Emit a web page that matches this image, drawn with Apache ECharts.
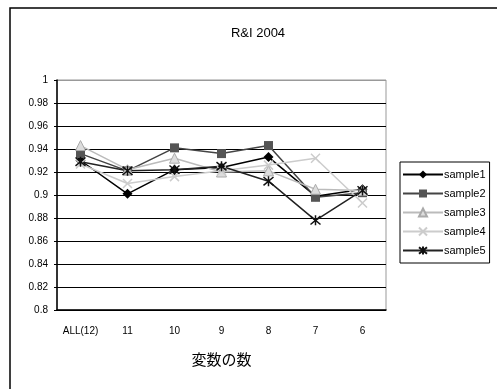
<!DOCTYPE html>
<html>
<head>
<meta charset="utf-8">
<script src="https://cdn.jsdelivr.net/npm/echarts@6/dist/echarts.min.js"></script>
<style>
  html, body { margin: 0; padding: 0; background: #fff; }
  #chart { width: 497px; height: 389px; }
</style>
</head>
<body>
<div id="chart"></div>
<script>
// カテゴリと各サンプルの値
var categories = ['ALL(12)', '11', '10', '9', '8', '7', '6']
var sample1 = [0.930, 0.901, 0.922, 0.924, 0.933, 0.899, 0.905]
var sample2 = [0.936, 0.921, 0.941, 0.936, 0.943, 0.898, 0.902]
var sample3 = [0.943, 0.922, 0.932, 0.920, 0.921, 0.905, 0.904]
var sample4 = [0.927, 0.910, 0.916, 0.921, 0.926, 0.932, 0.893]
var sample5 = [0.929, 0.921, 0.922, 0.925, 0.912, 0.878, 0.904]
var yTicks = [0.8, 0.82, 0.84, 0.86, 0.88, 0.9, 0.92, 0.94, 0.96, 0.98, 1]

var latin = 'Liberation Sans'
var cross = 'path://M0,0L10,10M10,0L0,10'
var star = 'path://M0,0L10,10M10,0L0,10M5,-1L5,11'

function lineSeries (name, data, lineColor, symbol, size, itemStyle) {
  return {
    name: name,
    type: 'line',
    data: data,
    symbol: symbol,
    symbolSize: size,
    lineStyle: { color: lineColor, width: 1.5 },
    itemStyle: itemStyle,
    emphasis: { disabled: true },
    animation: false
  }
}

// 最上段（1.0）は枠線と同じ灰色
var gridColors = yTicks.map(function (v, i) { return i === yTicks.length - 1 ? '#999' : '#000' })

var chart = echarts.init(document.getElementById('chart'))
chart.setOption({
  animation: false,
  title: {
    text: 'R&I 2004',
    left: 253,
    top: 22,
    textAlign: 'center',
    textStyle: { fontFamily: latin, fontSize: 13, fontWeight: 'normal', color: '#000' }
  },
  graphic: [{
    type: 'rect',
    shape: { x: 10, y: 8, width: 600, height: 500 },
    style: { fill: 'none', stroke: '#000', lineWidth: 1.5 },
    z: -1
  }],
  legend: {
    orient: 'vertical',
    left: 400,
    top: 162,
    width: 92,
    itemWidth: 40,
    itemHeight: 10,
    itemGap: 8,
    padding: [7, 4, 7, 2],
    borderColor: '#000',
    borderWidth: 1,
    textStyle: { fontFamily: latin, fontSize: 11, color: '#000', padding: [0, 0, 0, -4] },
    data: ['sample1', 'sample2', 'sample3', 'sample4', 'sample5']
  },
  grid: {
    left: 57,
    right: 111,
    top: 80,
    bottom: 79,
    show: true,
    borderColor: '#999',
    borderWidth: 1
  },
  xAxis: {
    type: 'category',
    data: categories,
    boundaryGap: true,
    name: '変数の数',
    nameLocation: 'middle',
    nameGap: 42,
    nameTextStyle: { fontFamily: 'Noto Sans CJK JP', fontSize: 15, color: '#000' },
    axisLine: { lineStyle: { color: '#000', width: 1.5 } },
    axisTick: { inside: true, length: 4, lineStyle: { color: '#000' } },
    axisLabel: { fontFamily: latin, fontSize: 10, color: '#000', margin: 16 }
  },
  yAxis: {
    type: 'value',
    min: 0.8,
    max: 1,
    interval: 0.02,
    axisLine: { show: true, lineStyle: { color: '#000', width: 1.5 } },
    axisTick: { show: true, length: 3, lineStyle: { color: '#000' } },
    axisLabel: {
      fontFamily: latin,
      fontSize: 10,
      color: '#000',
      margin: 9,
      formatter: function (v) { return String(parseFloat(v.toFixed(2))) }
    },
    splitLine: { show: true, lineStyle: { color: gridColors, width: 1 } }
  },
  series: [
    lineSeries('sample1', sample1, '#000', 'diamond', 10, { color: '#000' }),
    lineSeries('sample2', sample2, '#444', 'rect', 9, { color: '#555' }),
    lineSeries('sample3', sample3, '#bbb', 'triangle', 10, { color: '#ddd', borderColor: '#aaa', borderWidth: 1 }),
    lineSeries('sample4', sample4, '#ccc', cross, 9, { color: 'transparent', borderColor: '#ccc', borderWidth: 1.5 }),
    lineSeries('sample5', sample5, '#222', star, 10, { color: 'transparent', borderColor: '#111', borderWidth: 1.5 })
  ]
})
</script>
</body>
</html>
